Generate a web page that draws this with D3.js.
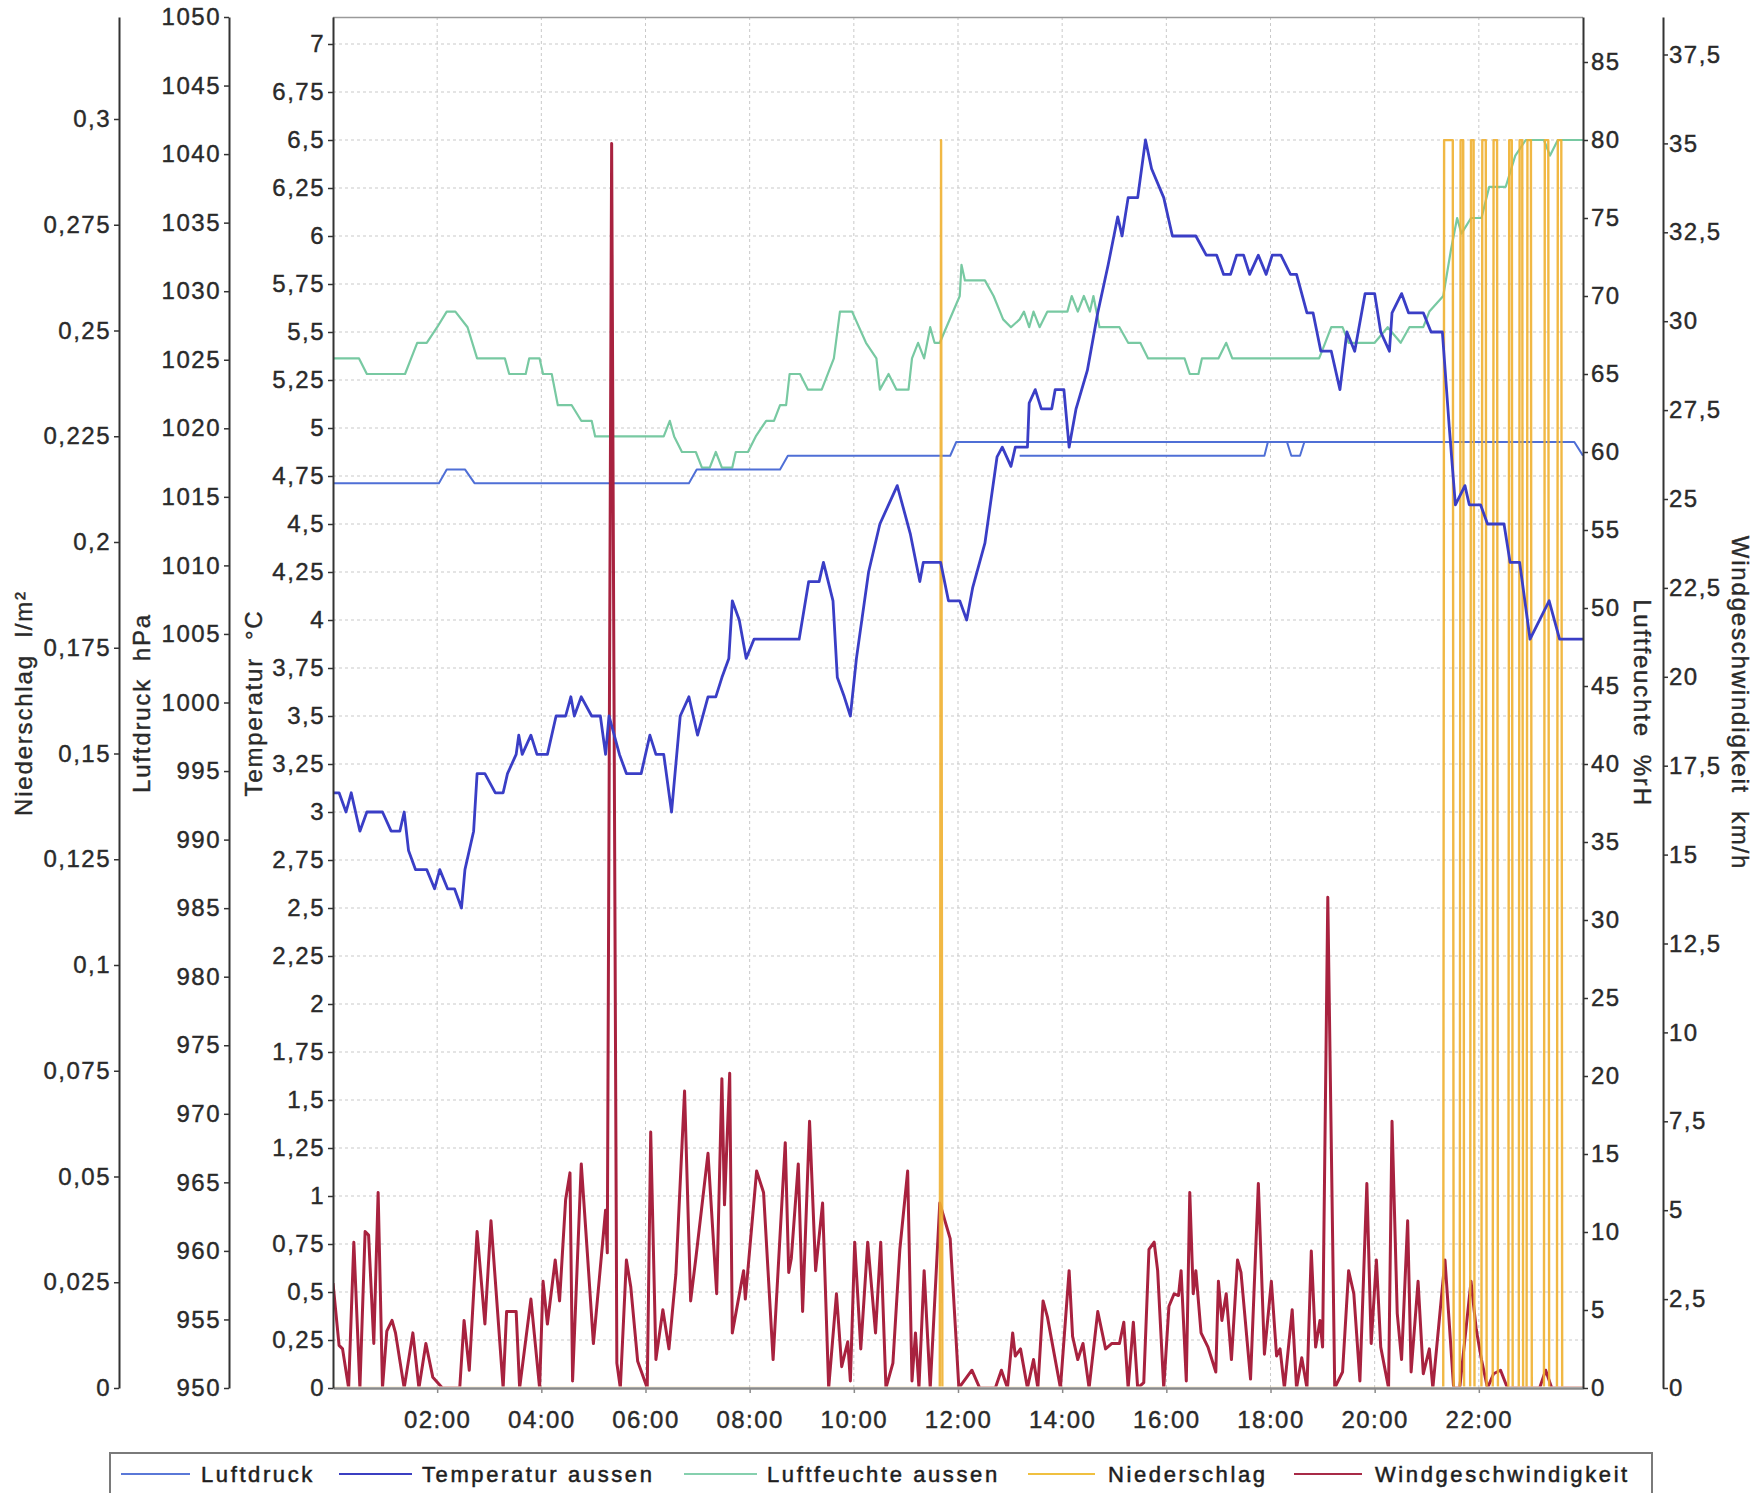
<!DOCTYPE html>
<html>
<head>
<meta charset="utf-8">
<script src="https://cdnjs.cloudflare.com/ajax/libs/d3/7.8.5/d3.min.js"></script>
<style>
body { margin: 0; background: #fff; }
text { font-family: "Liberation Sans", Arial, sans-serif; }
</style>
</head>
<body>
<div id="chart"></div>
<script>
// all times are minutes since midnight

// Luftdruck hPa
var presData = [[0,1016],[122,1016],[131,1017],[152,1017],[163,1016],[410,1016],[419,1017],[515,1017],[524,1018],
  [711,1018],[718,1019],[1430,1019],[1440,1018]];
// second pressure trace seen between 13:10 and 18:40
var presData2 = [[791,1018],[1073,1018],[1077,1019],[1099,1019],[1104,1018],[1114,1018],[1119,1019]];

// Temperatur aussen °C
var tempData = [[0,3.1],[7,3.1],[15,3.0],[21,3.1],[31,2.9],[39,3.0],[57,3.0],[67,2.9],[77,2.9],[82,3.0],[87,2.8],
  [95,2.7],[108,2.7],[117,2.6],[123,2.7],[132,2.6],[140,2.6],[148,2.5],[152,2.7],[162,2.9],[166,3.2],[175,3.2],
  [187,3.1],[196,3.1],[201,3.2],[211,3.3],[214,3.4],[218,3.3],[228,3.4],[235,3.3],[247,3.3],[257,3.5],[268,3.5],
  [274,3.6],[278,3.5],[286,3.6],[298,3.5],[308,3.5],[314,3.3],[318,3.5],[330,3.3],[338,3.2],[355,3.2],[365,3.4],
  [372,3.3],[381,3.3],[390,3.0],[400,3.5],[410,3.6],[420,3.4],[432,3.6],[441,3.6],[448,3.7],[456,3.8],[460,4.1],
  [468,4.0],[476,3.8],[485,3.9],[537,3.9],[548,4.2],[560,4.2],[565,4.3],[576,4.1],[581,3.7],[589,3.6],[596,3.5],
  [603,3.8],[617,4.25],[630,4.5],[650,4.7],[665,4.45],[676,4.2],[680,4.3],[700,4.3],[709,4.1],[722,4.1],[730,4.0],
  [737,4.17],[751,4.4],[765,4.85],[771,4.9],[781,4.8],[786,4.9],[800,4.9],[802,5.13],[809,5.2],[816,5.1],[828,5.1],
  [832,5.2],[842,5.2],[848,4.9],[856,5.1],[869,5.3],[881,5.6],[893,5.85],[904,6.1],[909,6.0],[916,6.2],[927,6.2],
  [936,6.5],[943,6.35],[957,6.2],[967,6.0],[994,6.0],[1006,5.9],[1018,5.9],[1026,5.8],[1034,5.8],[1041,5.9],
  [1049,5.9],[1056,5.8],[1066,5.9],[1075,5.8],[1082,5.9],[1092,5.9],[1103,5.8],[1110,5.8],[1122,5.6],[1129,5.6],
  [1138,5.4],[1150,5.4],[1160,5.2],[1168,5.5],[1177,5.4],[1189,5.7],[1200,5.7],[1207,5.5],[1217,5.4],[1220,5.6],
  [1231,5.7],[1239,5.6],[1256,5.6],[1265,5.5],[1278,5.5],[1286,5.0],[1293,4.6],[1304,4.7],[1309,4.6],[1322,4.6],
  [1330,4.5],[1349,4.5],[1356,4.3],[1367,4.3],[1379,3.9],[1401,4.1],[1413,3.9],[1440,3.9]];

// Luftfeuchte aussen %rH
var humData = [[0,66],[30,66],[39,65],[83,65],[90,66],[97,67],[108,67],[120,68],[131,69],[141,69],[155,68],[166,66],
  [198,66],[203,65],[222,65],[226,66],[238,66],[242,65],[252,65],[259,63],[275,63],[286,62],[298,62],[302,61],
  [381,61],[388,62],[393,61],[402,60],[418,60],[425,59],[434,59],[441,60],[448,59],[460,59],[464,60],[478,60],
  [487,61],[499,62],[508,62],[515,63],[522,63],[526,65],[538,65],[547,64],[563,64],[577,66],[584,69],[598,69],
  [614,67],[626,66],[630,64],[640,65],[649,64],[663,64],[667,66],[674,67],[681,66],[688,68],[693,67],[699,67],
  [722,70],[724,72],[728,71],[751,71],[761,70],[772,68.5],[781,68],[791,68.5],[796,69],[802,68],[807,69],[814,68],
  [823,69],[846,69],[851,70],[858,69],[865,70],[872,69],[876,70],[883,68],[906,68],[916,67],[930,67],[939,66],
  [981,66],[987,65],[997,65],[1001,66],[1020,66],[1029,67],[1036,66],[1136,66],[1143,67],[1150,68],[1163,68],
  [1170,67],[1200,67],[1215,68],[1230,67],[1240,68],[1256,68],[1263,69],[1279,70],[1288,73],[1295,75],[1300,74],
  [1311,75],[1323,75],[1332,77],[1351,77],[1362,79],[1374,80],[1395,80],[1402,79],[1411,80],[1440,80]];

// Niederschlag l/m²
var rainData = [[0,0],[699,0],[700.5,0.295],[702,0],[1279,0],[1280,0.295],[1290,0.295],[1291,0],
  [1298,0],[1299,0.295],[1302,0.295],[1303,0],[1310,0],[1311,0.295],[1314,0.295],[1315,0],[1323,0],[1324,0.295],
  [1328,0.295],[1329,0],[1336,0],[1337,0.295],[1341,0.295],[1342,0],[1354,0],[1355,0.295],[1358,0.295],[1359,0],
  [1366,0],[1367,0.295],[1370,0.295],[1371,0],[1375,0],[1376,0.295],[1380,0.295],[1381,0],[1395,0],[1396,0.295],
  [1400,0.295],[1401,0],[1410,0],[1411,0.295],[1415,0.295],[1416,0],[1440,0]];

// Windgeschwindigkeit km/h
var windData = [[0,2.95],[7,1.2],[11,1.1],[18,0],[24,4.1],[31,0],[37,4.4],[41,4.3],[47,1.25],[52,5.5],[57,0],
  [62,1.6],[68,1.9],[72,1.55],[82,0],[92,1.55],[99,0],[107,1.25],[115,0.3],[126,0],[146,0],[151,1.9],[157,0.5],
  [166,4.4],[175,1.8],[182,4.7],[196,0],[200,2.15],[211,2.15],[215,0],[228,2.5],[238,0],[242,3.0],[247,1.8],
  [256,3.6],[261,2.45],[268,5.3],[273,6.05],[276,0.2],[286,6.3],[293,3.8],[300,1.25],[314,5.0],[316,3.8],[321,35],
  [327,0.7],[331,0],[338,3.6],[343,2.85],[351,0.75],[362,0],[366,7.2],[372,0.8],[380,2.2],[387,1.1],[395,3.2],
  [405,8.35],[412,2.45],[418,3.65],[432,6.6],[442,2.65],[448,8.7],[451,5.15],[457,8.85],[460,1.55],[473,3.3],
  [475,2.5],[488,6.1],[496,5.5],[507,0.8],[521,6.9],[525,3.25],[528,3.65],[536,6.3],[541,2.15],[549,7.5],[556,3.3],
  [564,5.2],[571,0],[580,2.65],[586,0.6],[593,1.3],[596,0.2],[601,4.1],[608,1.1],[616,4.1],[625,1.55],[631,4.1],
  [637,0],[645,0.7],[653,3.9],[662,6.1],[667,0.2],[671,1.55],[675,0],[681,3.3],[688,0],[699,5.2],[711,4.2],
  [717,1.7],[721,0],[736,0.5],[745,0],[763,0],[770,0.5],[777,0],[783,1.55],[786,0.9],[792,1.1],[800,0],[807,0.8],
  [812,0],[818,2.45],[823,2.0],[838,0],[848,3.3],[852,1.45],[858,0.8],[864,1.25],[871,0],[881,2.15],[890,1.1],
  [897,1.25],[906,1.25],[911,1.85],[916,0],[922,1.85],[927,0],[934,0.15],[940,3.9],[946,4.1],[950,3.3],[957,0],
  [963,2.3],[969,2.65],[974,2.6],[977,3.3],[983,0.2],[987,5.5],[991,2.65],[994,3.3],[1000,1.55],[1008,1.15],
  [1017,0.45],[1020,3.0],[1024,1.9],[1029,2.65],[1035,0.8],[1042,3.6],[1046,3.25],[1057,0.25],[1066,5.75],
  [1073,0.95],[1081,3.0],[1087,0.9],[1091,1.1],[1096,0],[1105,2.2],[1110,0],[1116,0.85],[1122,0],[1127,3.85],
  [1132,1.15],[1137,1.9],[1140,1.15],[1146,13.8],[1154,0],[1163,0.45],[1170,3.3],[1176,2.65],[1183,0.2],
  [1191,5.75],[1196,1.25],[1202,3.6],[1207,1.15],[1216,0],[1220,7.5],[1226,2.1],[1231,0.8],[1238,4.7],[1242,0.45],
  [1250,3.0],[1256,0.4],[1263,1.1],[1267,0],[1274,1.8],[1281,3.6],[1291,0],[1298,0],[1311,3.0],[1317,1.65],
  [1323,0.8],[1330,0],[1337,0.4],[1345,0.5],[1353,0],[1390,0],[1397,0.5],[1404,0],[1440,0]];

// tick values
var hourTicks = [120, 240, 360, 480, 600, 720, 840, 960, 1080, 1200, 1320];
var rainTicks = d3.range(0, 13).map(i => i * 0.025);
var presTicks = d3.range(950, 1051, 5);
var tempTicks = d3.range(0, 29).map(i => i * 0.25);
var humTicks = d3.range(0, 86, 5);
var windTicks = d3.range(0, 16).map(i => i * 2.5);

var legendItems = [
  {name: "Luftdruck", color: "#5a78d8", x1: 121, x2: 190, tx: 201},
  {name: "Temperatur aussen", color: "#3b3fc2", x1: 339, x2: 412, tx: 422},
  {name: "Luftfeuchte aussen", color: "#86d0ae", x1: 684, x2: 757, tx: 767},
  {name: "Niederschlag", color: "#f0c040", x1: 1028, x2: 1095, tx: 1108},
  {name: "Windgeschwindigkeit", color: "#a82a47", x1: 1294, x2: 1362, tx: 1375}
];

//****************************************************************** */

var svgWidth = 1763;
var svgHeight = 1493;
var plotLeft = 333, plotRight = 1583, plotTop = 17, plotBottom = 1388;

var svg = d3.select("#chart").append("svg")
  .attr("width", svgWidth)
  .attr("height", svgHeight);

var fmt = function(v) { return String(+v.toFixed(3)).replace(".", ","); };

var x = d3.scaleLinear().domain([0, 1440]).range([plotLeft, plotRight]);
var yTemp = d3.scaleLinear().domain([0, 1371 / 192]).range([plotBottom, plotTop]);
var yPres = d3.scaleLinear().domain([950, 1050]).range([plotBottom, plotTop]);
var yRain = d3.scaleLinear().domain([0, 1371 / 105.75 * 0.025]).range([plotBottom, plotTop]);
var yHum = d3.scaleLinear().domain([0, 1371 / 78 * 5]).range([plotBottom, plotTop]);
var yWind = d3.scaleLinear().domain([0, 1371 / 88.9 * 2.5]).range([plotBottom, plotTop]);

// grid
var grid = svg.append("g").attr("stroke", "#c9c9c9").attr("stroke-dasharray", "3,3").attr("stroke-width", 1);
grid.selectAll(".vg").data(hourTicks).enter().append("line")
  .attr("x1", d => x(d)).attr("x2", d => x(d))
  .attr("y1", plotTop).attr("y2", plotBottom);
grid.selectAll(".hg").data(tempTicks.slice(1)).enter().append("line")
  .attr("x1", plotLeft).attr("x2", plotRight)
  .attr("y1", d => yTemp(d)).attr("y2", d => yTemp(d));

svg.append("clipPath").attr("id", "plotclip").append("rect")
  .attr("x", plotLeft).attr("y", plotTop)
  .attr("width", plotRight - plotLeft).attr("height", plotBottom - plotTop - 1.5);

var series = svg.append("g").attr("clip-path", "url(#plotclip)").attr("fill", "none")
  .attr("stroke-linejoin", "round");

function drawLine(data, yScale, color, width, opacity) {
  var line = d3.line().x(d => x(d[0])).y(d => yScale(d[1]));
  series.append("path")
    .attr("d", line(data))
    .attr("stroke", color)
    .attr("stroke-width", width)
    .attr("stroke-opacity", opacity || 1);
}

drawLine(humData, yHum, "#78c9a2", 2.2);
drawLine(presData, yPres, "#4f6fd6", 2);
drawLine(presData2, yPres, "#4f6fd6", 2);
drawLine(windData, yWind, "#a8223f", 3);
drawLine(rainData, yRain, "#f0b030", 2.4, 0.9);
drawLine(tempData, yTemp, "#3a3ec6", 2.8);

// plot frame
svg.append("line").attr("x1", plotLeft).attr("x2", plotRight).attr("y1", plotTop + 0.5).attr("y2", plotTop + 0.5)
  .attr("stroke", "#9a9a9a").attr("stroke-width", 1.5);

function styleAxis(g) {
  g.attr("font-family", null).attr("font-size", null);
  g.select(".domain").attr("stroke", "#333").attr("stroke-width", 2);
  g.selectAll(".tick line").attr("stroke", "#333").attr("stroke-width", 1.5);
  g.selectAll(".tick text").attr("font-size", 24).attr("fill", "#2a2a2a").attr("letter-spacing", "1.5px")
    .attr("stroke", "#2a2a2a").attr("stroke-width", 0.4);
}

// x axis
var xAxis = svg.append("g")
  .attr("transform", `translate(0, ${plotBottom})`)
  .call(d3.axisBottom(x).tickValues(hourTicks).tickSize(5).tickSizeOuter(0).tickPadding(18)
    .tickFormat(d => d3.format("02d")(d / 60) + ":00"));
styleAxis(xAxis);
xAxis.select(".domain").attr("stroke", "#8a8a8a").attr("stroke-width", 2.5);
xAxis.selectAll(".tick line").attr("stroke", "#8a8a8a");

// left axes
var rainAxis = svg.append("g").attr("transform", "translate(119,0)")
  .call(d3.axisLeft(yRain).tickValues(rainTicks).tickSize(5).tickSizeOuter(0).tickPadding(3).tickFormat(fmt));
styleAxis(rainAxis);

var presAxis = svg.append("g").attr("transform", "translate(229,0)")
  .call(d3.axisLeft(yPres).tickValues(presTicks).tickSize(5).tickSizeOuter(0).tickPadding(3).tickFormat(fmt));
styleAxis(presAxis);

var tempAxis = svg.append("g").attr("transform", `translate(${plotLeft},0)`)
  .call(d3.axisLeft(yTemp).tickValues(tempTicks).tickSize(5).tickSizeOuter(0).tickPadding(3).tickFormat(fmt));
styleAxis(tempAxis);

// right axes
var humAxis = svg.append("g").attr("transform", `translate(${plotRight},0)`)
  .call(d3.axisRight(yHum).tickValues(humTicks).tickSize(5).tickSizeOuter(0).tickPadding(3).tickFormat(fmt));
styleAxis(humAxis);

var windAxis = svg.append("g").attr("transform", "translate(1663,0)")
  .call(d3.axisRight(yWind).tickValues(windTicks).tickSize(5).tickSizeOuter(0).tickPadding(1).tickFormat(fmt));
styleAxis(windAxis);

// axis titles
var titles = [
  {text: "Niederschlag  l/m²", x: 23, rot: -90},
  {text: "Luftdruck  hPa", x: 141, rot: -90},
  {text: "Temperatur  °C", x: 253, rot: -90},
  {text: "Luftfeuchte  %rH", x: 1642, rot: 90},
  {text: "Windgeschwindigkeit  km/h", x: 1740, rot: 90}
];
svg.selectAll(".axis-title").data(titles).enter().append("text")
  .attr("class", "axis-title")
  .attr("transform", d => `translate(${d.x}, 703) rotate(${d.rot})`)
  .attr("text-anchor", "middle")
  .attr("dominant-baseline", "central")
  .attr("font-size", 24)
  .attr("letter-spacing", "1.8px")
  .attr("fill", "#2a2a2a")
  .attr("stroke", "#2a2a2a").attr("stroke-width", 0.4)
  .style("white-space", "pre")
  .text(d => d.text);

// legend
svg.append("rect")
  .attr("x", 110).attr("y", 1453).attr("width", 1542).attr("height", 70)
  .attr("fill", "none").attr("stroke", "#7a7a7a").attr("stroke-width", 2);

var legend = svg.selectAll(".legend").data(legendItems).enter().append("g");
legend.append("line")
  .attr("x1", d => d.x1).attr("x2", d => d.x2)
  .attr("y1", 1474).attr("y2", 1474)
  .attr("stroke", d => d.color).attr("stroke-width", 2);
legend.append("text")
  .attr("x", d => d.tx).attr("y", 1474)
  .attr("dominant-baseline", "central")
  .attr("font-size", 22)
  .attr("letter-spacing", "2.6px")
  .attr("fill", "#1e1e1e")
  .attr("stroke", "#1e1e1e").attr("stroke-width", 0.5)
  .text(d => d.name);
</script>
</body>
</html>
